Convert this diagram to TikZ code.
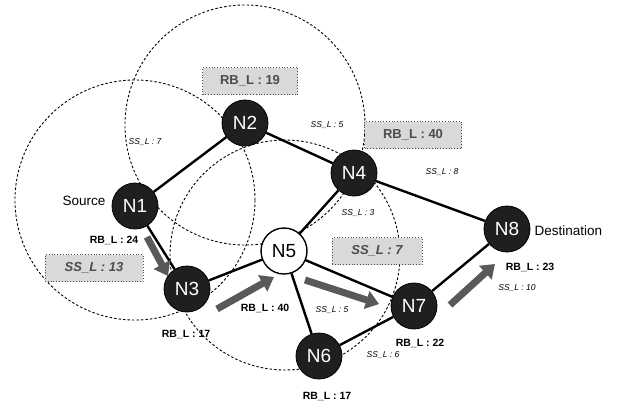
\documentclass[tikz,border=0pt]{standalone}
\usepackage{fontspec}
\setmainfont{Liberation Sans}
\usetikzlibrary{arrows.meta}
\begin{document}
\begin{tikzpicture}[x=1pt,y=-1pt,
 netnode/.style={circle, draw=black, line width=0.8pt, fill=black!88, text=white, minimum size=46pt, inner sep=0pt, font=\fontsize{19}{20}\selectfont},
 whitenode/.style={netnode, fill=white, text=black, line width=1.4pt},
 link/.style={line width=2.4pt, draw=black},
 rangecirc/.style={circle, draw=black, dash pattern=on 2.5pt off 2pt, line width=0.9pt, inner sep=0pt},
 flow/.style={line width=7pt, draw=black!65, -{Triangle[length=13pt,width=18pt]}},
 rbl/.style={font=\bfseries\fontsize{10.5}{11}\selectfont},
 ssl/.style={font=\itshape\fontsize{8.5}{9}\selectfont},
 tag/.style={draw=black!70, dotted, line width=0.8pt, fill=black!15, text=black!70, inner sep=0pt, minimum height=27pt},
 plain/.style={font=\fontsize{13.5}{14}\selectfont}
]
\useasboundingbox (0,0) rectangle (626,408);
% transmission ranges
\node[rangecirc, minimum size=240pt] (r1) at (135,200) {};
\node[rangecirc, minimum size=240pt] (r2) at (245,125) {};
\node[rangecirc, minimum size=230pt] (r5) at (285,255) {};
% nodes
\node[netnode] (N1) at (135,206) {N1};
\node[netnode] (N2) at (245,123) {N2};
\node[netnode] (N4) at (354,173) {N4};
\node[netnode] (N3) at (187,289) {N3};
\node[whitenode] (N5) at (284,251) {N5};
\node[netnode] (N6) at (319,356) {N6};
\node[netnode] (N7) at (414,306) {N7};
\node[netnode] (N8) at (507,229) {N8};
% links
\draw[link] (N1) -- (N2);
\draw[link] (N1) -- (N3);
\draw[link] (N2) -- (N4);
\draw[link] (N4) -- (N5);
\draw[link] (N4) -- (N8);
\draw[link] (N3) -- (N5);
\draw[link] (N5) -- (N7);
\draw[link] (N5) -- (N6);
\draw[link] (N6) -- (N7);
\draw[link] (N7) -- (N8);
% route arrows
\coordinate (a1s) at (147,237); \coordinate (a1e) at (168,276);
\coordinate (a2s) at (217,309); \coordinate (a2e) at (274,277);
\coordinate (a3s) at (305,280); \coordinate (a3e) at (379,304);
\coordinate (a4s) at (450,305); \coordinate (a4e) at (495,264);
\draw[flow] (a1s) -- (a1e);
\draw[flow] (a2s) -- (a2e);
\draw[flow] (a3s) -- (a3e);
\draw[flow] (a4s) -- (a4e);
% tags
\node[tag, minimum width=95pt, font=\bfseries\fontsize{13}{14}\selectfont] (t19) at (250,81) {RB\_L : 19};
\node[tag, minimum width=97pt, font=\bfseries\fontsize{13}{14}\selectfont] (t40) at (413,135) {RB\_L : 40};
\node[tag, minimum width=98pt, font=\bfseries\itshape\fontsize{13}{14}\selectfont] (t13) at (94,268) {SS\_L : 13};
\node[tag, minimum width=90pt, font=\bfseries\itshape\fontsize{13}{14}\selectfont] (t7) at (377,251) {SS\_L : 7};
% small labels
\node[ssl] (s12) at (145,142) {SS\_L : 7};
\node[ssl] (s24) at (327,125) {SS\_L : 5};
\node[ssl] (s48) at (442,172) {SS\_L : 8};
\node[ssl] (s45) at (358,213) {SS\_L : 3};
\node[ssl] (s57) at (332,310) {SS\_L : 5};
\node[ssl] (s67) at (383,355) {SS\_L : 6};
\node[ssl] (s78) at (517,288) {SS\_L : 10};
\node[rbl] (b1) at (114,240) {RB\_L : 24};
\node[rbl] (b3) at (186,335) {RB\_L : 17};
\node[rbl] (b5) at (265,308) {RB\_L : 40};
\node[rbl] (b7) at (420,343) {RB\_L : 22};
\node[rbl] (b8) at (530,267) {RB\_L : 23};
\node[rbl] (b6) at (327,397) {RB\_L : 17};
\node[plain, anchor=east] (src) at (109,201) {Source};
\node[plain, anchor=west] (dst) at (531,231) {Destination};
\end{tikzpicture}
\end{document}
